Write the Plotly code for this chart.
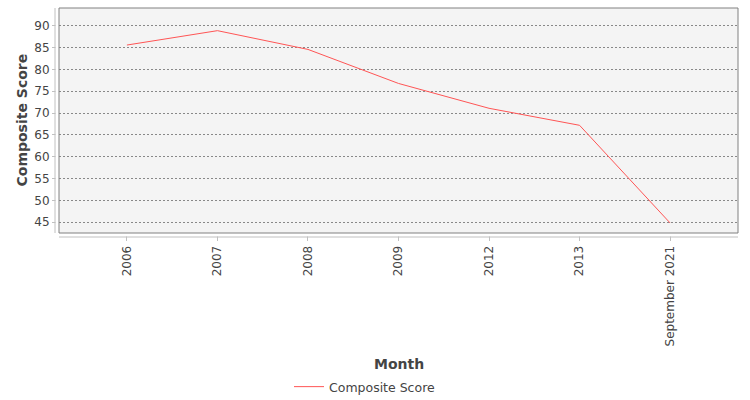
import plotly.graph_objects as go

months = ["2006", "2007", "2008", "2009", "2012", "2013", "September 2021"]
composite_score = [85.6, 88.9, 84.6, 76.8, 71.1, 67.2, 44.8]

FONT = "DejaVu Sans, Liberation Sans, sans-serif"
TEXT = "#444444"
AXIS = "#c0c0c0"
FRAME = "#808080"

fig = go.Figure()
fig.add_trace(
    go.Scatter(
        x=months, y=composite_score, name="Composite Score",
        mode="lines", line={"color": "#ff5555", "width": 1},
    )
)

fig.update_layout(
    width=750, height=400,
    margin={"l": 59, "r": 12, "t": 8, "b": 167, "autoexpand": False},
    paper_bgcolor="white",
    plot_bgcolor="#f4f4f4",
    font={"family": FONT, "size": 12, "color": TEXT},
    showlegend=True,
    legend={
        "orientation": "h", "xref": "container", "yref": "container",
        "x": 289 / 750, "xanchor": "left", "y": 0.0325, "yanchor": "middle",
        "font": {"size": 12.5, "color": TEXT}, "itemwidth": 30,
    },
)
fig.update_xaxes(
    type="category", range=[-0.75, 6.75],
    showgrid=False, zeroline=False, showline=False,
    ticks="outside", ticklen=7, tickcolor=AXIS, tickangle=-90,
    tickfont={"size": 12, "color": TEXT},
)
fig.update_yaxes(
    range=[42.5, 94.1], tick0=45, dtick=5,
    showgrid=True, gridcolor="#888888", gridwidth=1, griddash="2px,2px",
    zeroline=False, showline=False,
    ticks="outside", ticklen=6, tickcolor=AXIS,
    tickfont={"size": 12, "color": TEXT},
)

pw, ph = 679.0, 225.0
shapes = [
    # gaps between plot frame and the offset axis lines
    {"type": "rect", "xref": "paper", "yref": "paper", "layer": "above",
     "x0": -3.5 / pw, "x1": -0.6 / pw, "y0": -0.02, "y1": 1.0,
     "fillcolor": "white", "line": {"width": 0}},
    {"type": "rect", "xref": "paper", "yref": "paper", "layer": "above",
     "x0": 0, "x1": 1.0, "y0": -3.5 / ph, "y1": -0.6 / ph,
     "fillcolor": "white", "line": {"width": 0}},
    # plot frame
    {"type": "rect", "xref": "paper", "yref": "paper", "layer": "above",
     "x0": 0, "x1": 1, "y0": 0, "y1": 1,
     "line": {"color": FRAME, "width": 1}},
    # offset axis lines
    {"type": "line", "xref": "paper", "yref": "paper", "layer": "above",
     "x0": -4 / pw, "x1": -4 / pw, "y0": 0, "y1": 1,
     "line": {"color": AXIS, "width": 1}},
    {"type": "line", "xref": "paper", "yref": "paper", "layer": "above",
     "x0": 0, "x1": 1, "y0": -4 / ph, "y1": -4 / ph,
     "line": {"color": AXIS, "width": 1}},
]
fig.update_layout(shapes=shapes)

fig.add_annotation(
    text="<b>Month</b>", xref="paper", yref="paper", x=0.5, y=(233 - 364) / ph,
    xanchor="center", yanchor="middle", showarrow=False,
    font={"size": 14, "color": TEXT},
)
fig.add_annotation(
    text="<b>Composite Score</b>", xref="paper", yref="paper",
    x=(21 - 59) / pw, y=0.5, textangle=-90,
    xanchor="center", yanchor="middle", showarrow=False,
    font={"size": 14, "color": TEXT},
)

# the page's default body margin would shift the whole figure by 8px
fig.write_html(
    "out.html",
    config={"displayModeBar": False},
    post_script="document.body.style.margin = '0';",
)
